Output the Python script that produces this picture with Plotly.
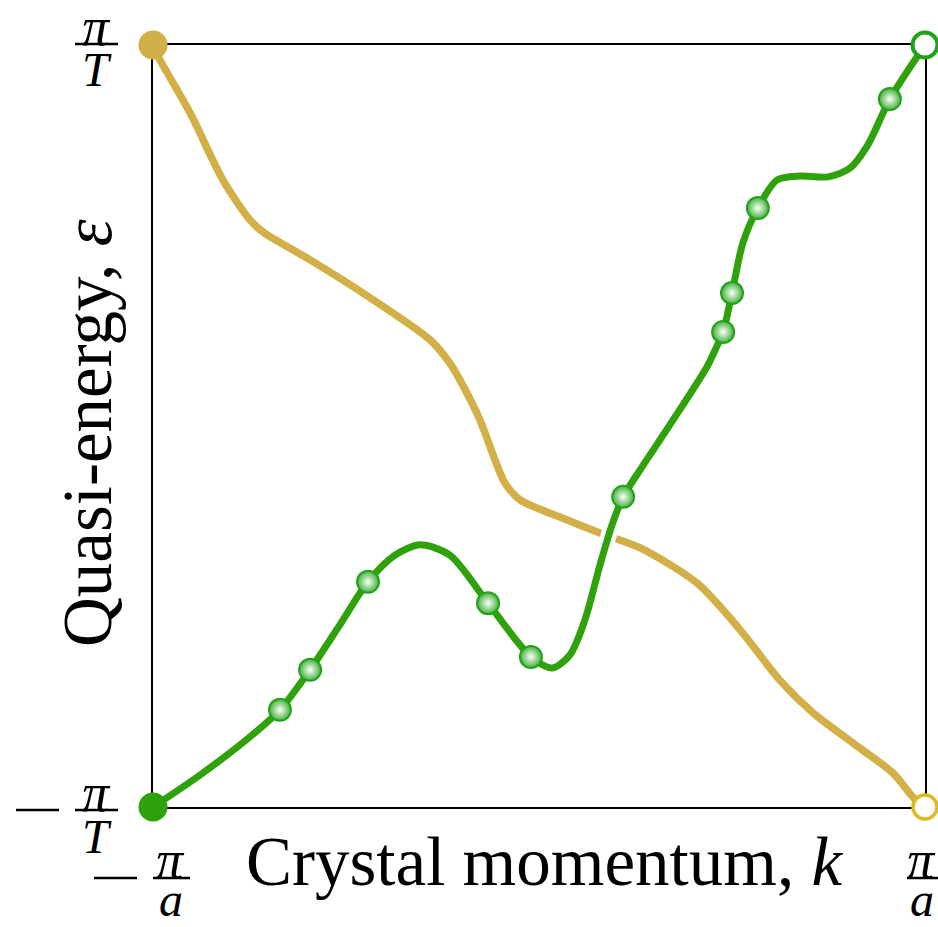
import plotly.graph_objects as go

# ---- data (k in units of pi/a, epsilon in units of pi/T) ----
gold_k = [-1.0, -0.982, -0.904, -0.819, -0.749, -0.715, -0.593, -0.456, -0.282, -0.231, -0.205,
          -0.153, -0.114, -0.088, -0.049, 0.054, 0.158, 0.262, 0.409, 0.521, 0.624, 0.710, 0.813,
          0.917, 0.969, 1.0]
gold_e = [1.0, 0.961, 0.822, 0.646, 0.541, 0.509, 0.436, 0.349, 0.226, 0.165, 0.121,
          0.016, -0.089, -0.150, -0.194, -0.239, -0.281, -0.320, -0.412, -0.535, -0.667, -0.753,
          -0.832, -0.911, -0.974, -1.0]

green_k = [-1.0, -0.878, -0.749, -0.671, -0.593, -0.516, -0.443, -0.373, -0.308, -0.231, -0.132,
           -0.021, 0.034, 0.080, 0.119, 0.158, 0.189, 0.218, 0.262, 0.339, 0.435, 0.456, 0.477,
           0.500, 0.528, 0.567, 0.617, 0.676, 0.749, 0.806, 0.852, 0.909, 1.0]
green_e = [-1.0, -0.916, -0.816, -0.745, -0.640, -0.522, -0.409, -0.339, -0.312, -0.339, -0.465,
           -0.606, -0.635, -0.601, -0.509, -0.365, -0.260, -0.186, -0.115, 0.003, 0.155, 0.199, 0.247,
           0.349, 0.480, 0.572, 0.646, 0.656, 0.654, 0.677, 0.738, 0.858, 1.0]

marker_k = [-0.671, -0.593, -0.443, -0.132, -0.021, 0.218, 0.477, 0.500, 0.567, 0.909]
marker_e = [-0.745, -0.640, -0.409, -0.465, -0.606, -0.186, 0.247, 0.349, 0.572, 0.858]

x_tick_vals = [-1, 1]
y_tick_vals = [-1, 1]

GOLD = "#d2af47"
GREEN = "#2fa20b"
RING_GREEN = "#1ea31a"
YELLOW = "#dcbb1c"

fig = go.Figure()

fig.add_trace(go.Scatter(x=gold_k, y=gold_e, mode="lines",
                         line=dict(color=GOLD, width=7.5, shape="spline", smoothing=0.8),
                         hoverinfo="skip", cliponaxis=False))
# white halo under the green band (gap at crossing)
fig.add_trace(go.Scatter(x=green_k, y=green_e, mode="lines",
                         line=dict(color="white", width=16, shape="spline", smoothing=0.8),
                         hoverinfo="skip", cliponaxis=False))
fig.add_trace(go.Scatter(x=green_k, y=green_e, mode="lines",
                         line=dict(color=GREEN, width=7, shape="spline", smoothing=0.8),
                         hoverinfo="skip", cliponaxis=False))
fig.add_trace(go.Scatter(x=marker_k, y=marker_e, mode="markers",
                         marker=dict(size=22, color="#42b038",
                                     gradient=dict(type="radial", color="white"),
                                     line=dict(color=RING_GREEN, width=2)),
                         hoverinfo="skip", cliponaxis=False))

# endpoints
fig.add_trace(go.Scatter(x=[gold_k[0]], y=[gold_e[0]], mode="markers",
                         marker=dict(size=29, color=GOLD, line=dict(width=0)),
                         cliponaxis=False, hoverinfo="skip"))
fig.add_trace(go.Scatter(x=[green_k[0]], y=[green_e[0]], mode="markers",
                         marker=dict(size=29, color=GREEN, line=dict(width=0)),
                         cliponaxis=False, hoverinfo="skip"))
fig.add_trace(go.Scatter(x=[green_k[-1]], y=[green_e[-1]], mode="markers",
                         marker=dict(size=25, color="white", line=dict(color=RING_GREEN, width=4)),
                         cliponaxis=False, hoverinfo="skip"))
fig.add_trace(go.Scatter(x=[gold_k[-1]], y=[gold_e[-1]], mode="markers",
                         marker=dict(size=24, color="white", line=dict(color=YELLOW, width=3.5)),
                         cliponaxis=False, hoverinfo="skip"))

W, H = 938, 927
L, R, T, B = 153, 13, 45, 120
PW, PH = W - L - R, H - T - B


def px(xp):
    return (xp - L) / PW


def py(yp):
    return (H - B - yp) / PH


FONT = "Liberation Serif"
annotations = []
shapes = []


def text_at(cx, cy, txt, size, **kw):
    annotations.append(dict(x=px(cx), y=py(cy), xref="paper", yref="paper",
                            text=txt, showarrow=False, xanchor="center", yanchor="middle",
                            font=dict(family=FONT, size=size, color="black"), **kw))


def hbar(x0, x1, y):
    shapes.append(dict(type="line", xref="paper", yref="paper",
                       x0=px(x0), x1=px(x1), y0=py(y), y1=py(y),
                       line=dict(color="black", width=2.5)))


PS = 54   # pi size
TS = 48   # denominator size
# y ticks: pi/T and -pi/T
text_at(96, 27, "<i>π</i>", PS)
hbar(75, 118, 44)
text_at(97, 70, "<i>T</i>", TS)

text_at(96, 793, "<i>π</i>", PS)
hbar(75, 118, 810)
text_at(97, 836, "<i>T</i>", TS)
hbar(16, 59, 810)

# x ticks: -pi/a and pi/a
text_at(170, 860, "<i>π</i>", PS)
hbar(153, 190, 878)
text_at(171, 899, "<i>a</i>", TS)
hbar(94, 137, 878)

text_at(921, 860, "<i>π</i>", PS)
hbar(907, 938, 878)
text_at(922, 899, "<i>a</i>", TS)

# axis titles
text_at(544, 862, "Crystal momentum, <i>k</i>", 69)
text_at(88, 433, "Quasi-energy, <i>ε</i>", 69, textangle=-90)

fig.update_layout(
    width=W, height=H,
    margin=dict(l=L, r=R, t=T, b=B),
    paper_bgcolor="white", plot_bgcolor="white",
    showlegend=False,
    annotations=annotations, shapes=shapes,
    xaxis=dict(range=[-1, 1], showgrid=False, zeroline=False, showline=True, mirror=True,
               linecolor="black", linewidth=2, tickvals=x_tick_vals, showticklabels=False,
               ticks="", layer="below traces", fixedrange=True),
    yaxis=dict(range=[-1, 1], showgrid=False, zeroline=False, showline=True, mirror=True,
               linecolor="black", linewidth=2, tickvals=y_tick_vals, showticklabels=False,
               ticks="", layer="below traces", fixedrange=True),
)

fig.write_html("out.html", config={"displayModeBar": False},
               post_script="document.body.style.margin='0';document.body.style.overflow='hidden';")
